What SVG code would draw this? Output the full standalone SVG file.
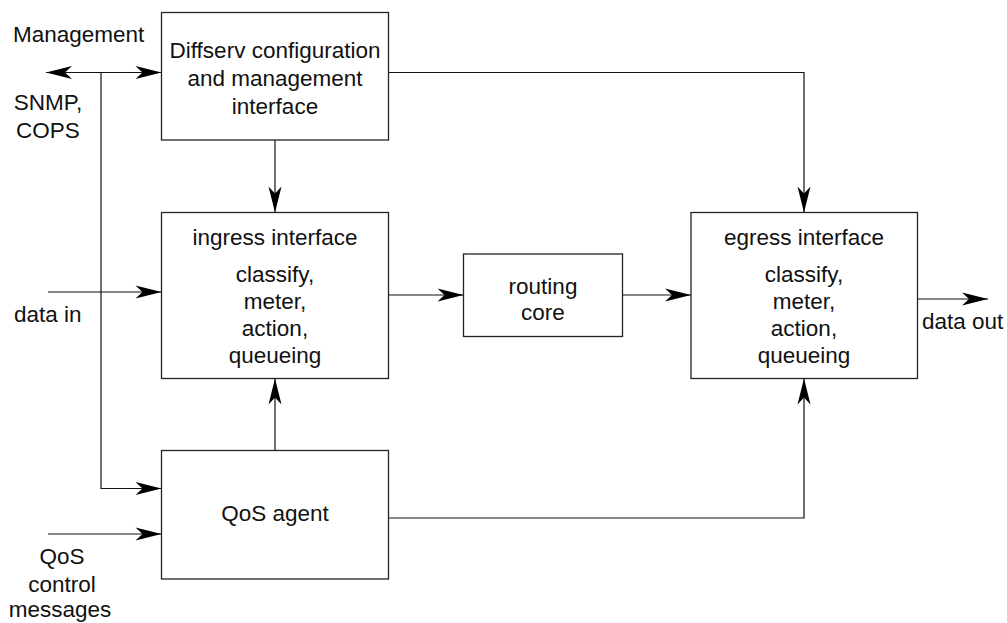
<svg xmlns="http://www.w3.org/2000/svg" width="1007" height="623" viewBox="0 0 1007 623">
  <style>
    .box { fill: #ffffff; stroke: #222222; stroke-width: 1.3; }
    .wire { fill: none; stroke: #111111; stroke-width: 1.2; }
    .lbl { font-family: "Liberation Sans", Arial, sans-serif; font-size: 22.5px; fill: #111111; }
    .mid { text-anchor: middle; }
  </style>
  <defs>
    <marker id="arrow" viewBox="-27 -7 28 14" refX="0" refY="0" markerWidth="28" markerHeight="14" markerUnits="userSpaceOnUse" orient="auto-start-reverse">
      <path d="M0,0 L-26,-6.5 L-19,0 L-26,6.5 Z" fill="#000000"/>
    </marker>
  </defs>

  <rect width="1007" height="623" fill="#ffffff"/>

  <!-- connectors -->
  <g id="connectors">
    <!-- management bus: out to the left and into the config interface -->
    <line class="wire" x1="46" y1="72.5" x2="161.5" y2="72.5" marker-start="url(#arrow)" marker-end="url(#arrow)"/>
    <!-- management feed down to the QoS agent -->
    <polyline class="wire" points="101,72.5 101,488.5 161.5,488.5" marker-end="url(#arrow)"/>
    <!-- config interface to ingress -->
    <line class="wire" x1="275" y1="140" x2="275" y2="212.5" marker-end="url(#arrow)"/>
    <!-- config interface to egress -->
    <polyline class="wire" points="388,72.5 804,72.5 804,212.5" marker-end="url(#arrow)"/>
    <!-- data in -->
    <line class="wire" x1="48" y1="292" x2="161.5" y2="292" marker-end="url(#arrow)"/>
    <!-- ingress to routing core -->
    <line class="wire" x1="388" y1="295" x2="463.5" y2="295" marker-end="url(#arrow)"/>
    <!-- routing core to egress -->
    <line class="wire" x1="622.5" y1="295" x2="691" y2="295" marker-end="url(#arrow)"/>
    <!-- data out -->
    <line class="wire" x1="917.5" y1="299" x2="988" y2="299" marker-end="url(#arrow)"/>
    <!-- QoS agent to ingress -->
    <line class="wire" x1="275" y1="450.5" x2="275" y2="378.5" marker-end="url(#arrow)"/>
    <!-- QoS agent to egress -->
    <polyline class="wire" points="388,518 804,518 804,378.5" marker-end="url(#arrow)"/>
    <!-- QoS control messages in -->
    <line class="wire" x1="48" y1="534" x2="161.5" y2="534" marker-end="url(#arrow)"/>
  </g>

  <!-- nodes -->
  <g id="config">
    <rect class="box" x="161.5" y="12.5" width="227" height="127.5"/>
    <text class="lbl mid" x="275" y="57.5">Diffserv configuration</text>
    <text class="lbl mid" x="275" y="85.5">and management</text>
    <text class="lbl mid" x="275" y="113.5">interface</text>
  </g>

  <g id="ingress">
    <rect class="box" x="161.5" y="212.5" width="227" height="166"/>
    <text class="lbl mid" x="275" y="245">ingress interface</text>
    <text class="lbl mid" x="275" y="281.5">classify,</text>
    <text class="lbl mid" x="275" y="308.5">meter,</text>
    <text class="lbl mid" x="275" y="336">action,</text>
    <text class="lbl mid" x="275" y="363">queueing</text>
  </g>

  <g id="routing">
    <rect class="box" x="463.5" y="254" width="159" height="82.5"/>
    <text class="lbl mid" x="543" y="293.5">routing</text>
    <text class="lbl mid" x="543" y="320">core</text>
  </g>

  <g id="egress">
    <rect class="box" x="691" y="212.5" width="226.5" height="166"/>
    <text class="lbl mid" x="804" y="245">egress interface</text>
    <text class="lbl mid" x="804" y="281.5">classify,</text>
    <text class="lbl mid" x="804" y="308.5">meter,</text>
    <text class="lbl mid" x="804" y="336">action,</text>
    <text class="lbl mid" x="804" y="363">queueing</text>
  </g>

  <g id="qos-agent">
    <rect class="box" x="161.5" y="450.5" width="227" height="128.5"/>
    <text class="lbl mid" x="275" y="521">QoS agent</text>
  </g>

  <!-- external labels -->
  <g id="labels">
    <text class="lbl" x="13" y="42">Management</text>
    <text class="lbl mid" x="48" y="110">SNMP,</text>
    <text class="lbl mid" x="48" y="137.5">COPS</text>
    <text class="lbl" x="14" y="322">data in</text>
    <text class="lbl mid" x="62" y="564">QoS</text>
    <text class="lbl mid" x="62" y="591.5">control</text>
    <text class="lbl mid" x="60" y="617">messages</text>
    <text class="lbl" x="922" y="328.5">data out</text>
  </g>
</svg>
